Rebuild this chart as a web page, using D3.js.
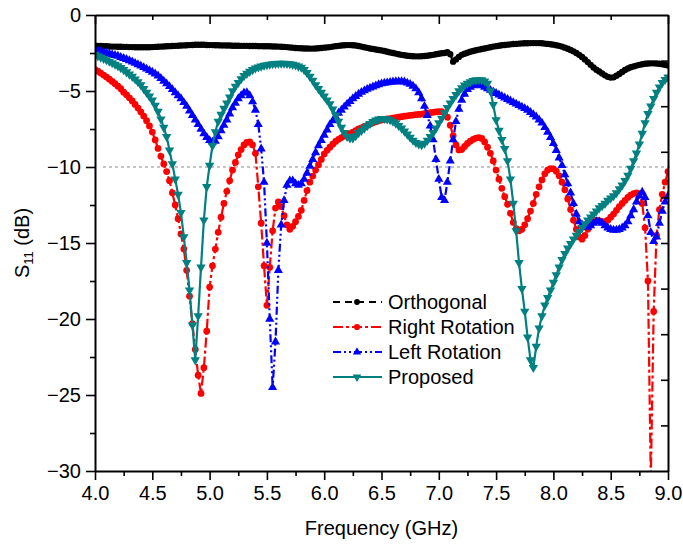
<!DOCTYPE html>
<html><head><meta charset="utf-8">
<script src="https://cdn.jsdelivr.net/npm/d3@7"></script>
<style>
body{margin:0;background:#fff}
svg{display:block}
text{font-family:"Liberation Sans",Arial,sans-serif;fill:#000}
</style>
</head><body>
<svg id="chart" width="683" height="546"></svg>
<script>
// Frequency grid: 4.0 GHz to 9.0 GHz, 0.025 GHz per sample (201 samples)
const fStart = 4.0, fStep = 0.025;

const orthogonal = [
-2.02,-2.03,-2.04,-2.05,-2.06,-2.07,-2.08,-2.08,-2.09,-2.09,
-2.10,-2.10,-2.11,-2.11,-2.12,-2.12,-2.12,-2.12,-2.12,-2.12,
-2.11,-2.10,-2.09,-2.08,-2.07,-2.06,-2.05,-2.04,-2.03,-2.02,
-2.01,-2.00,-1.99,-1.98,-1.97,-1.96,-1.96,-1.96,-1.96,-1.97,
-1.98,-1.98,-1.99,-1.99,-2.00,-2.00,-2.01,-2.01,-2.02,-2.02,
-2.02,-2.03,-2.03,-2.03,-2.04,-2.04,-2.04,-2.05,-2.05,-2.06,
-2.06,-2.06,-2.07,-2.07,-2.08,-2.09,-2.10,-2.11,-2.13,-2.15,
-2.17,-2.18,-2.19,-2.20,-2.20,-2.21,-2.21,-2.20,-2.19,-2.17,
-2.15,-2.13,-2.11,-2.08,-2.05,-2.03,-2.01,-1.99,-1.98,-1.98,
-1.99,-2.01,-2.04,-2.08,-2.12,-2.16,-2.20,-2.23,-2.27,-2.30,
-2.33,-2.37,-2.42,-2.46,-2.50,-2.54,-2.58,-2.62,-2.65,-2.68,
-2.70,-2.71,-2.72,-2.72,-2.71,-2.70,-2.68,-2.65,-2.62,-2.58,
-2.55,-2.52,-2.50,-2.45,-2.58,-3.07,-2.92,-2.76,-2.62,-2.55,
-2.48,-2.42,-2.37,-2.32,-2.28,-2.24,-2.20,-2.16,-2.12,-2.08,
-2.05,-2.02,-1.99,-1.97,-1.95,-1.93,-1.91,-1.90,-1.88,-1.87,
-1.86,-1.86,-1.85,-1.85,-1.85,-1.85,-1.86,-1.88,-1.90,-1.92,
-1.95,-1.99,-2.03,-2.08,-2.15,-2.22,-2.30,-2.39,-2.50,-2.62,
-2.76,-2.92,-3.10,-3.28,-3.45,-3.60,-3.72,-3.85,-3.97,-4.07,
-4.12,-4.10,-4.00,-3.88,-3.75,-3.62,-3.52,-3.44,-3.38,-3.33,
-3.28,-3.24,-3.21,-3.19,-3.18,-3.18,-3.19,-3.21,-3.24,-3.28,
-3.33];

const rightRotation = [
-3.60,-3.70,-3.82,-3.95,-4.08,-4.22,-4.37,-4.52,-4.68,-4.85,
-5.08,-5.25,-5.45,-5.65,-5.88,-6.12,-6.38,-6.65,-6.95,-7.30,
-7.70,-8.22,-8.78,-9.30,-9.80,-10.30,-10.90,-11.70,-12.50,-13.40,
-14.40,-15.40,-16.80,-18.50,-20.30,-22.00,-23.70,-24.90,-23.20,-20.80,
-17.90,-16.50,-15.40,-14.30,-13.30,-12.40,-11.60,-10.90,-10.20,-9.70,
-9.20,-8.85,-8.55,-8.38,-8.35,-8.55,-9.10,-11.30,-13.70,-16.50,
-19.10,-16.60,-14.20,-12.70,-12.30,-12.60,-13.20,-13.80,-14.10,-13.90,
-13.60,-13.25,-12.85,-12.20,-11.55,-11.00,-10.60,-10.20,-9.85,-9.50,
-9.15,-8.90,-8.70,-8.50,-8.32,-8.18,-8.06,-7.96,-7.88,-7.80,
-7.70,-7.60,-7.50,-7.42,-7.35,-7.26,-7.17,-7.09,-7.02,-6.96,
-6.90,-6.87,-6.84,-6.81,-6.78,-6.75,-6.72,-6.69,-6.66,-6.63,
-6.60,-6.58,-6.56,-6.54,-6.52,-6.49,-6.46,-6.43,-6.40,-6.37,
-6.35,-6.36,-6.45,-6.72,-7.25,-7.95,-8.55,-8.88,-8.85,-8.65,
-8.45,-8.30,-8.18,-8.10,-8.07,-8.12,-8.35,-8.70,-9.10,-9.60,
-10.20,-10.80,-11.40,-11.95,-12.45,-13.05,-13.65,-14.05,-14.20,-14.10,
-13.80,-13.40,-12.90,-12.40,-11.80,-11.30,-10.85,-10.45,-10.20,-10.10,
-10.12,-10.28,-10.58,-11.00,-11.50,-12.10,-12.80,-13.50,-14.10,-14.60,
-14.75,-14.50,-14.10,-13.80,-13.60,-13.50,-13.55,-13.60,-13.60,-13.50,
-13.30,-13.10,-12.85,-12.60,-12.40,-12.20,-12.00,-11.85,-11.75,-11.70,
-11.75,-12.40,-14.00,-17.50,-30.50,-19.50,-14.50,-12.80,-11.80,-11.00,
-10.30];

const leftRotation = [
-2.30,-2.35,-2.40,-2.45,-2.50,-2.55,-2.60,-2.65,-2.70,-2.78,
-2.85,-2.92,-3.00,-3.08,-3.17,-3.26,-3.35,-3.45,-3.55,-3.65,
-3.75,-3.87,-4.00,-4.17,-4.35,-4.52,-4.70,-4.90,-5.10,-5.30,
-5.50,-5.75,-6.00,-6.30,-6.60,-6.90,-7.20,-7.50,-7.80,-8.05,
-8.25,-8.35,-8.30,-8.00,-7.60,-7.25,-6.90,-6.50,-6.10,-5.80,
-5.50,-5.30,-5.12,-5.10,-5.30,-5.70,-6.25,-7.20,-8.80,-11.00,
-15.00,-20.00,-24.50,-21.50,-16.80,-13.80,-12.20,-11.20,-10.90,-10.90,
-11.10,-11.20,-11.10,-10.80,-10.40,-9.95,-9.50,-9.05,-8.60,-8.25,
-7.90,-7.55,-7.20,-6.95,-6.70,-6.45,-6.25,-6.05,-5.85,-5.68,
-5.50,-5.35,-5.20,-5.08,-4.98,-4.88,-4.80,-4.72,-4.65,-4.58,
-4.52,-4.48,-4.45,-4.42,-4.40,-4.38,-4.38,-4.38,-4.40,-4.47,
-4.55,-4.68,-4.85,-5.10,-5.50,-6.00,-6.60,-7.30,-8.20,-9.50,
-10.80,-12.00,-12.20,-11.00,-9.60,-8.20,-7.00,-6.20,-5.60,-5.20,
-4.90,-4.75,-4.65,-4.60,-4.60,-4.65,-4.75,-4.85,-4.95,-5.05,
-5.15,-5.25,-5.35,-5.45,-5.55,-5.65,-5.75,-5.85,-5.95,-6.05,
-6.15,-6.25,-6.40,-6.55,-6.70,-6.90,-7.10,-7.40,-7.70,-8.05,
-8.45,-8.90,-9.40,-9.90,-10.50,-11.10,-11.70,-12.40,-13.10,-13.60,
-13.80,-13.90,-13.95,-13.85,-13.70,-13.60,-13.60,-13.70,-13.85,-14.00,
-14.10,-14.15,-14.15,-14.10,-14.00,-13.85,-13.60,-13.20,-12.80,-12.30,
-11.90,-11.65,-12.00,-13.20,-14.30,-14.90,-14.60,-13.70,-12.90,-12.30,
-11.90];

const proposed = [
-2.60,-2.70,-2.78,-2.87,-2.95,-3.05,-3.15,-3.25,-3.35,-3.47,
-3.60,-3.75,-3.90,-4.05,-4.22,-4.40,-4.60,-4.85,-5.10,-5.35,
-5.60,-5.95,-6.35,-6.85,-7.40,-8.00,-8.90,-9.80,-10.80,-11.80,
-13.00,-14.60,-16.30,-18.10,-20.40,-22.70,-19.80,-16.60,-13.50,-11.30,
-9.90,-8.60,-7.70,-7.00,-6.55,-6.15,-5.80,-5.40,-5.00,-4.70,
-4.45,-4.20,-4.00,-3.85,-3.72,-3.60,-3.50,-3.43,-3.37,-3.32,
-3.28,-3.25,-3.22,-3.20,-3.18,-3.18,-3.18,-3.20,-3.22,-3.26,
-3.30,-3.37,-3.45,-3.60,-3.80,-4.05,-4.30,-4.60,-4.85,-5.10,
-5.35,-5.60,-5.85,-6.20,-6.60,-7.00,-7.40,-7.75,-8.00,-8.10,
-8.10,-7.95,-7.75,-7.60,-7.45,-7.30,-7.15,-7.02,-6.92,-6.86,
-6.82,-6.82,-6.85,-6.90,-7.00,-7.12,-7.28,-7.45,-7.65,-7.85,
-8.05,-8.25,-8.40,-8.50,-8.55,-8.45,-8.25,-8.00,-7.75,-7.45,
-7.10,-6.80,-6.45,-6.10,-5.80,-5.50,-5.25,-5.00,-4.80,-4.62,
-4.50,-4.40,-4.32,-4.28,-4.27,-4.28,-4.35,-4.50,-5.00,-5.90,
-6.90,-7.60,-8.20,-8.80,-9.60,-10.80,-12.40,-14.20,-16.30,-18.00,
-19.50,-21.20,-22.70,-23.20,-21.80,-20.60,-19.80,-19.10,-18.60,-18.10,
-17.60,-17.10,-16.60,-16.10,-15.70,-15.35,-15.05,-14.75,-14.50,-14.25,
-14.00,-13.75,-13.50,-13.30,-13.10,-12.90,-12.70,-12.55,-12.40,-12.20,
-12.05,-11.90,-11.70,-11.45,-11.20,-10.90,-10.55,-10.10,-9.60,-9.10,
-8.50,-7.80,-7.10,-6.50,-6.00,-5.50,-5.10,-4.75,-4.45,-4.25,
-4.10];

const seriesNames = ["Orthogonal", "Right Rotation", "Left Rotation", "Proposed"];
const xTicks = [4.0, 4.5, 5.0, 5.5, 6.0, 6.5, 7.0, 7.5, 8.0, 8.5, 9.0];
const xMinorTicks = [4.25, 4.75, 5.25, 5.75, 6.25, 6.75, 7.25, 7.75, 8.25, 8.75];
const yTicks = [0, -5, -10, -15, -20, -25, -30];
const yMinorTicks = [-2.5, -7.5, -12.5, -17.5, -22.5, -27.5];
const topMajorTicks = [4, 5, 6, 7, 8, 9];
const topMinorTicks = [4.5, 5.5, 6.5, 7.5, 8.5];
const rightTicks = [-3, -6, -9, -12, -15, -18, -21, -24, -27];
const refLevel = -10;

const svg = d3.select("#chart");
const L = 95, R = 668, T = 15, B = 471;
const x = d3.scaleLinear().domain([4, 9]).range([L, R]);
const y = d3.scaleLinear().domain([-30, 0]).range([B, T]);

svg.append("defs").append("clipPath").attr("id", "plotclip")
  .append("rect").attr("x", L).attr("y", T).attr("width", R - L).attr("height", B - T);

// reference -10 dB line
svg.append("line")
  .attr("x1", L + 8).attr("x2", R + 5)
  .attr("y1", y(refLevel)).attr("y2", y(refLevel))
  .attr("stroke", "#8a8a8a").attr("stroke-width", 1).attr("stroke-dasharray", "3,3");

const styles = [
  {color: "#000000", dash: "7,5", symbol: d3.symbolCircle, size: 32, rot: 0},
  {color: "#ff0000", dash: "10,3,3,3", symbol: d3.symbolCircle, size: 36, rot: 0},
  {color: "#0000ff", dash: "8,3,2,3,2,3", symbol: d3.symbolTriangle, size: 36, rot: 0},
  {color: "#008080", dash: null, symbol: d3.symbolTriangle, size: 38, rot: 180}
];
const allValues = [orthogonal, rightRotation, leftRotation, proposed];

const plot = svg.append("g").attr("clip-path", "url(#plotclip)");
const line = d3.line().x(d => x(d[0])).y(d => y(d[1]));

allValues.forEach((vals, k) => {
  const st = styles[k];
  const pts = vals.map((v, i) => [fStart + i * fStep, v]);
  const g = plot.append("g");
  g.append("path").datum(pts)
    .attr("d", line).attr("fill", "none")
    .attr("stroke", st.color).attr("stroke-width", 2.2)
    .attr("stroke-dasharray", st.dash);
  const sym = d3.symbol().type(st.symbol).size(st.size);
  g.selectAll("path.m").data(pts).join("path").attr("class", "m")
    .attr("d", sym)
    .attr("fill", st.color)
    .attr("transform", d => `translate(${x(d[0])},${y(d[1])}) rotate(${st.rot})`);
});

// axes
function styleAxis(g) {
  g.select(".domain").attr("stroke", "#000").attr("stroke-width", 2);
  g.selectAll(".tick line").attr("stroke", "#000").attr("stroke-width", 1.6);
  g.selectAll(".tick text").attr("font-size", 20).attr("font-family", '"Liberation Sans",Arial,sans-serif');
}
const fmt = d3.format(".1f");
svg.append("g").attr("transform", `translate(0,${B})`)
  .call(d3.axisBottom(x).tickValues(xTicks).tickSize(9).tickSizeOuter(0).tickPadding(6).tickFormat(fmt))
  .call(styleAxis);
svg.append("g").attr("transform", `translate(0,${B})`)
  .call(d3.axisBottom(x).tickValues(xMinorTicks).tickSize(5).tickSizeOuter(0).tickFormat(""))
  .call(styleAxis).call(g => g.select(".domain").remove());
svg.append("g").attr("transform", `translate(${L},0)`)
  .call(d3.axisLeft(y).tickValues(yTicks).tickSize(9).tickSizeOuter(0).tickPadding(5).tickFormat(d3.format("d")))
  .call(styleAxis);
svg.append("g").attr("transform", `translate(${L},0)`)
  .call(d3.axisLeft(y).tickValues(yMinorTicks).tickSize(5).tickSizeOuter(0).tickFormat(""))
  .call(styleAxis).call(g => g.select(".domain").remove());
svg.append("g").attr("transform", `translate(0,${T})`)
  .call(d3.axisTop(x).tickValues(topMajorTicks).tickSize(-9).tickSizeOuter(0).tickFormat(""))
  .call(styleAxis);
svg.append("g").attr("transform", `translate(0,${T})`)
  .call(d3.axisTop(x).tickValues(topMinorTicks).tickSize(-5).tickSizeOuter(0).tickFormat(""))
  .call(styleAxis).call(g => g.select(".domain").remove());
svg.append("g").attr("transform", `translate(${R},0)`)
  .call(d3.axisRight(y).tickValues(rightTicks).tickSize(-7).tickSizeOuter(0).tickFormat(""))
  .call(styleAxis);

// axis titles
svg.append("text").attr("x", (L + R) / 2).attr("y", 535).attr("text-anchor", "middle")
  .attr("font-size", 20).text("Frequency (GHz)");
const yt = svg.append("text").attr("transform", `translate(29,${(T + B) / 2}) rotate(-90)`)
  .attr("text-anchor", "middle").attr("font-size", 20);
yt.append("tspan").text("S");
yt.append("tspan").attr("font-size", 13).attr("dy", 4).text("11");
yt.append("tspan").attr("dy", -4).text(" (dB)");

// legend
const legY = [302, 327, 352, 377];
seriesNames.forEach((name, k) => {
  const st = styles[k];
  const g = svg.append("g").attr("transform", `translate(0,${legY[k]})`);
  g.append("line").attr("x1", 333).attr("x2", 382).attr("y1", 0).attr("y2", 0)
    .attr("stroke", st.color).attr("stroke-width", 2).attr("stroke-dasharray", st.dash);
  g.append("path").attr("d", d3.symbol().type(st.symbol).size(st.size - 6))
    .attr("fill", st.color).attr("transform", `translate(357,0) rotate(${st.rot})`);
  g.append("text").attr("x", 388).attr("y", 0).attr("dy", "0.35em")
    .attr("font-size", 20).text(name);
});
</script>
</body></html>
